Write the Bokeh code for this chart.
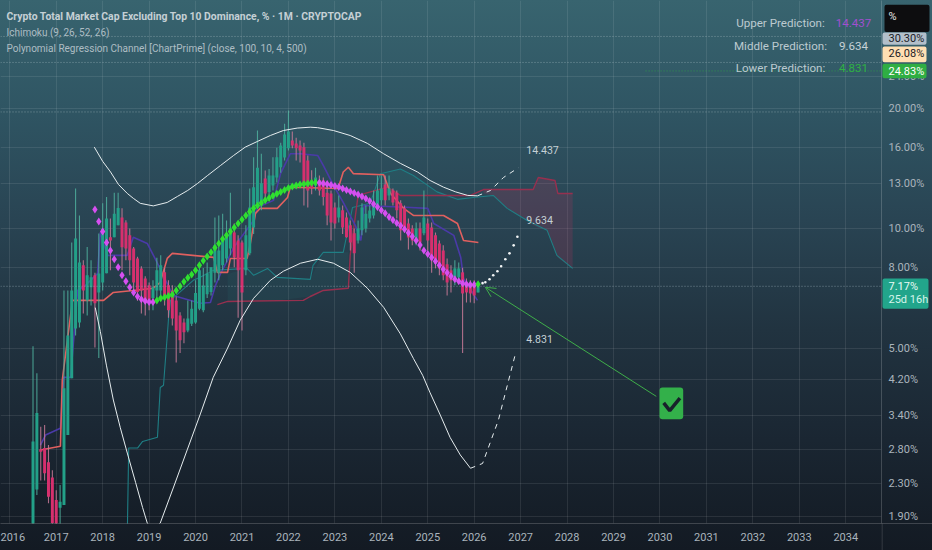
from bokeh.plotting import figure
from bokeh.embed import file_html
from bokeh.resources import INLINE
from bokeh.layouts import column
from bokeh.core.properties import value
from bokeh.models import FixedTicker, Label, Span, Arrow, OpenHead

# ---- axes
year_ticks = list(range(2016, 2035))
price_ticks = [24, 20, 16, 13, 10, 8, 5, 4.2, 3.4, 2.8, 2.3, 1.9]
price_labels = ["24.00%", "20.00%", "16.00%", "13.00%", "10.00%", "8.00%", "5.00%", "4.20%", "3.40%", "2.80%", "2.30%", "1.90%"]

# ---- monthly candles, Jul 2016 onward (percent)
first_month = 2016.5
opens = [1.70,2.22,2.80,2.82,2.60,2.38,2.09,2.00,2.03,3.04,4.22,5.62,5.82,8.09,6.61,7.13,7.64,6.92,7.33,7.73,9.51,9.51,10.19,10.66,10.36,9.62,8.92,8.42,7.95,7.50,7.21,6.70,7.00,7.00,7.77,7.21,7.00,6.61,6.06,5.82,5.56,5.78,5.82,6.30,6.24,6.85,6.94,7.75,7.75,8.09,8.42,8.92,9.78,9.34,9.23,7.86,8.67,10.07,11.57,11.63,13.36,12.36,12.83,13.43,14.25,15.07,15.90,16.63,16.35,16.16,16.00,14.82,13.20,12.83,13.20,13.20,12.30,12.25,11.30,10.66,11.11,10.66,10.19,9.73,9.34,9.90,10.00,10.60,10.79,11.30,11.77,12.90,12.11,12.46,12.30,11.57,11.25,10.30,10.00,9.34,10.00,9.73,10.30,10.07,9.62,9.18,8.82,8.14,7.86,7.55,7.55,7.77,7.33,7.21,7.21,6.92]
highs = [5.07,4.34,3.19,3.22,2.87,2.48,2.21,2.28,7.00,7.00,9.23,12.60,10.79,8.33,9.00,8.33,7.75,9.72,11.57,12.00,10.60,12.30,12.30,11.24,10.50,10.00,9.00,8.50,8.05,7.60,7.33,7.42,8.45,8.57,7.98,7.42,7.21,6.76,6.17,5.95,6.61,6.61,7.42,8.23,7.97,8.23,8.00,10.66,10.79,10.90,10.48,12.30,10.30,9.62,9.34,10.19,12.60,15.10,17.61,15.40,13.99,14.10,15.10,15.95,16.40,18.30,19.77,17.50,16.90,16.63,16.40,15.25,14.00,14.20,13.59,13.43,12.83,12.46,11.63,12.11,11.43,10.98,10.48,10.00,10.48,11.57,11.43,11.43,12.46,13.59,13.59,13.59,13.59,12.60,12.46,11.77,11.43,10.60,10.19,10.36,10.36,12.46,10.60,10.36,9.78,9.34,9.08,8.42,8.09,8.33,8.23,7.98,7.50,7.42,7.42,7.30]
lows = [1.65,2.15,2.34,2.34,2.05,1.76,1.70,1.76,2.03,3.04,4.22,5.40,5.65,6.13,6.06,6.42,5.04,4.74,7.00,7.73,7.86,9.51,10.19,7.86,8.33,7.64,7.00,6.60,6.13,6.06,6.24,6.24,6.60,6.80,6.42,5.98,5.72,4.62,4.88,5.16,5.50,5.70,5.78,6.24,6.17,6.70,6.80,7.33,7.42,7.86,8.23,8.57,8.00,5.98,5.56,7.64,8.57,9.70,11.43,11.11,11.77,12.11,12.46,13.05,13.80,14.82,15.70,15.90,14.82,14.65,11.43,11.30,12.20,12.46,12.11,11.43,10.19,9.34,10.00,10.36,9.70,9.50,8.82,7.75,9.18,9.62,9.78,10.36,10.60,11.11,11.43,11.43,11.77,11.43,10.60,9.34,9.78,8.87,9.08,9.08,8.82,9.62,8.82,7.75,7.95,7.64,7.42,6.80,6.92,7.21,7.33,4.88,6.53,6.53,6.50,6.92]
closes = [2.93,3.45,2.76,2.44,2.13,1.83,1.72,2.07,3.98,5.40,7.00,9.45,8.23,7.00,7.64,7.55,6.50,7.72,10.00,10.60,9.34,10.90,11.27,8.98,8.92,8.33,7.33,6.94,7.00,6.52,6.60,7.13,7.86,8.09,6.80,6.24,5.95,5.56,5.25,5.50,5.95,6.30,6.90,7.86,7.20,7.72,8.00,9.08,8.82,9.45,9.72,10.00,8.47,7.86,6.92,9.62,11.30,12.70,14.20,13.00,12.25,13.59,13.59,15.10,16.16,17.20,17.50,16.16,15.90,15.70,12.90,12.46,12.60,13.43,12.46,12.00,10.79,10.36,10.30,11.30,10.07,9.51,9.23,8.67,10.00,11.30,10.90,11.10,11.63,12.46,12.60,11.77,12.60,11.63,11.11,9.90,9.90,9.50,9.34,10.00,9.23,10.66,9.34,8.33,8.17,7.95,7.64,7.33,7.42,7.95,7.95,6.88,6.92,6.88,6.80,7.17]

# ---- polynomial regression centre line, last 100 months
middle = [11.17,10.42,9.84,9.23,8.82,8.38,8.00,7.64,7.38,7.13,6.92,6.76,6.65,6.59,6.55,6.55,6.61,6.69,6.73,6.78,6.84,7.00,7.17,7.36,7.53,7.68,7.86,8.09,8.31,8.52,8.72,8.95,9.18,9.42,9.62,9.84,10.07,10.30,10.54,10.79,11.02,11.24,11.43,11.60,11.77,11.94,12.08,12.22,12.36,12.50,12.64,12.75,12.83,12.90,12.94,12.98,13.02,13.05,13.02,12.98,12.94,12.87,12.79,12.72,12.60,12.50,12.39,12.28,12.18,12.04,11.90,11.73,11.53,11.33,11.11,10.92,10.70,10.51,10.33,10.16,9.96,9.76,9.56,9.34,9.10,8.82,8.64,8.47,8.28,8.09,7.91,7.75,7.60,7.47,7.38,7.30,7.25,7.23,7.23,7.25]

upper_x = [2017.82,2018.0,2018.17,2018.34,2018.53,2018.66,2018.81,2019.09,2019.39,2019.61,2019.83,2020.04,2020.26,2020.54,2020.82,2021.07,2021.33,2021.61,2021.89,2022.19,2022.47,2022.63,2022.97,2023.33,2023.70,2024.05,2024.41,2024.78,2025.05,2025.34,2025.60,2025.86,2026.07]
upper_y = [16.0,14.74,13.86,12.9,12.25,11.91,11.57,11.4,11.63,12.04,12.46,12.97,13.59,14.4,15.25,16.0,16.53,17.11,17.61,17.86,17.95,17.9,17.61,17.11,16.35,15.4,14.57,13.86,13.2,12.7,12.36,12.11,12.08]
lower_x = [2017.84,2017.95,2018.08,2018.23,2018.38,2018.53,2018.71,2018.86,2018.96,2019.09,2019.24,2019.52,2019.82,2020.11,2020.38,2020.69,2020.96,2021.25,2021.61,2021.89,2022.26,2022.63,2022.97,2023.33,2023.70,2024.05,2024.41,2024.69,2024.89,2025.05,2025.27,2025.48,2025.70,2025.92]
lower_y = [6.34,5.52,4.55,3.72,3.17,2.74,2.31,2.0,1.83,1.76,1.83,2.24,2.79,3.45,4.24,5.02,5.89,6.69,7.42,7.82,8.19,8.38,8.19,7.77,7.09,6.35,5.45,4.73,4.29,3.88,3.41,3.0,2.71,2.51]

upper_fc_x = [2026.07,2026.35,2026.63,2026.95]
upper_fc_y = [12.08,12.46,13.43,14.2]
middle_fc_x = [2026.08,2026.18,2026.24,2026.33,2026.41,2026.5,2026.58,2026.67,2026.76,2026.85,2026.93]
middle_fc_y = [7.25,7.3,7.34,7.47,7.64,7.82,8.05,8.38,8.67,9.08,9.54]
lower_fc_x = [2025.92,2026.18,2026.52,2026.88]
lower_fc_y = [2.51,2.58,3.31,4.82]

# ---- Ichimoku lines
kijun_x = [2016.66,2017.09,2017.13,2017.35,2017.46,2018.02,2018.23,2018.66,2019.09,2019.24,2019.39,2019.5,2020.39,2020.47,2020.69,2020.75,2021.11,2021.18,2021.29,2021.39,2021.76,2021.98,2022.04,2023.07,2023.18,2023.29,2023.4,2024.05,2024.2,2024.48,2024.69,2025.34,2025.64,2025.77,2026.09]
kijun_y = [2.79,2.85,4.17,6.61,6.61,6.61,6.92,7.0,7.09,7.33,8.42,8.67,8.47,7.77,7.77,8.42,8.42,9.18,10.92,11.24,11.24,11.97,12.7,12.6,13.86,14.25,13.73,13.65,12.25,11.24,10.79,10.79,10.3,9.34,9.23]
tenkan_x = [2016.66,2016.77,2017.09,2017.16,2017.31,2017.46,2017.63,2017.89,2017.95,2018.1,2018.53,2018.66,2018.96,2019.18,2019.46,2019.52,2020.1,2020.32,2020.43,2020.54,2020.69,2020.82,2021.25,2021.33,2021.68,2021.83,2022.04,2022.26,2022.63,2022.75,2022.97,2023.18,2023.44,2023.56,2023.63,2024.64,2025.0,2025.13,2025.56,2025.71,2025.77,2026.07]
tenkan_y = [2.87,3.04,3.16,4.24,4.24,7.0,7.21,7.72,9.79,8.57,8.57,9.51,9.18,8.19,7.0,6.8,6.5,6.53,7.21,7.72,8.33,8.97,10.48,11.3,11.77,13.73,15.4,15.4,15.25,14.4,12.83,11.63,10.19,9.34,11.43,11.3,11.24,10.3,9.62,8.47,7.5,6.61]
span_a_x = [2018.53,2018.56,2018.75,2018.86,2019.18,2019.24,2019.31,2019.42,2019.46,2019.95,2020.1,2020.38,2021.11,2021.25,2021.55,2021.76,2022.47,2022.53,2022.75,2023.18,2023.38,2023.76,2023.98,2024.41,2024.69,2025.2,2025.64,2025.98,2026.41,2026.71,2027.14,2027.57,2027.78,2028.12]
span_a_y = [1.7,2.82,2.82,2.93,3.0,4.0,4.05,5.99,6.61,7.42,7.55,7.86,7.95,7.64,7.95,7.55,7.46,8.09,8.72,8.72,11.3,11.57,13.73,14.1,13.59,12.36,11.84,11.97,12.11,11.24,10.48,9.9,8.57,7.95]
span_b_x = [2020.47,2020.69,2022.32,2022.47,2022.75,2023.29,2023.33,2023.5,2024.13,2024.41,2025.92,2026.2,2027.27,2027.38,2027.74,2027.8,2028.12]
span_b_y = [6.45,6.57,6.61,6.76,7.0,7.09,8.57,12.11,12.7,12.11,12.11,12.53,12.53,13.43,13.2,12.25,12.25]

cloud_x = [2026.2,2026.41,2026.71,2027.14,2027.27,2027.38,2027.57,2027.74,2027.78,2027.8,2028.12]
cloud_top = [12.53,12.53,12.53,12.53,12.53,13.43,13.3,13.2,12.9,12.25,12.25]
cloud_bottom = [12.25,12.11,11.24,10.48,10.2,10.05,9.9,8.8,8.57,8.45,7.95]
past_cloud_x = [2020.69,2021.11,2021.55,2021.76,2022.47,2022.75,2023.29]
past_cloud_top = [7.7,7.95,7.95,7.55,7.46,8.72,8.72]
past_cloud_bottom = [6.57,6.6,6.6,6.6,6.76,7.0,7.09]
mid_cloud_x = [2023.98,2024.41,2024.69,2025.2,2025.64]
mid_cloud_top = [13.73,14.1,13.59,12.36,11.84]
mid_cloud_bottom = [12.35,12.11,12.11,12.11,11.84]

price_lines = [30.30, 26.08, 19.6, 7.17]
lower_line_value = 24.83
lower_line_years = [2029.69, 2034.77]

arrow_years = [2029.92, 2026.24]
arrow_prices = [3.8, 7.13]
badge_years = [2029.99, 2030.5]
badge_prices = [3.33, 4.0]
check_years = [2030.08, 2030.21, 2030.43]
check_prices = [3.66, 3.5, 3.76]

legend_lines = [
    ("Crypto Total Market Cap Excluding Top 10 Dominance, % \u00b7 1M \u00b7 CRYPTOCAP", 16, "bold", "#c5d0d5", "10.4px"),
    ("Ichimoku (9, 26, 52, 26)", 32, "normal", "#aebdc4", "10px"),
    ("Polynomial Regression Channel [ChartPrime] (close, 100, 10, 4, 500)", 48, "normal", "#aebdc4", "10px"),
]
table_rows = [("Upper Prediction:", "14.437", 22, "#a24fd0"), ("Middle Prediction:", "9.634", 45, "#c6d2d8"), ("Lower Prediction:", "4.831", 67, "#2fb045")]
curve_labels = [("14.437", 2027.12, 15.7), ("9.634", 2027.12, 10.48), ("4.831", 2027.12, 5.28)]

# price scale tags: text, tag top, tag bottom, text level, fill, text colour
tag_text = ["30.30%", "26.08%", "24.83%", "7.17%", "25d 16h", "%"]
tag_level = [29.9, 27.4, 24.8, 7.17, 6.65, 34.0]
tag_text_col = ["#1b2026", "#1b2026", "#ffffff", "#eafbf6", "#d6f5ec", "#e8e8e8"]
tag_top = [31.0, 28.6, 25.9, 7.5, 36.4]
tag_bottom = [28.9, 26.1, 23.8, 6.3, 31.1]
tag_fill = ["#b3bfca", "#ffdfb3", "#2fae43", "#22a58b", "#0d0d0f"]

# ---- figure: frame spans page pixels x 0..881, y 0..523
p = figure(frame_width=881, frame_height=523, y_axis_type="log", y_axis_location="right",
           x_range=(2015.8, 2034.77), y_range=(1.825, 37.28),
           output_backend="svg", toolbar_location=None, min_border=0,
           min_border_left=0, min_border_right=51, min_border_bottom=27, min_border_top=0,
           background_fill_alpha=0, border_fill_alpha=0, outline_line_color=None)
p.styles = {"background": "linear-gradient(180deg,#38646f 0%,#2f5563 20%,#294453 40%,#213340 60%,#1a2632 80%,#131a23 100%)"}

p.xaxis.ticker = FixedTicker(ticks=year_ticks)
p.xaxis.major_label_overrides = {y: str(y) for y in year_ticks}
p.yaxis.ticker = FixedTicker(ticks=price_ticks)
p.yaxis.major_label_overrides = dict(zip(price_ticks, price_labels))
for ax in (p.xaxis[0], p.yaxis[0]):
    ax.major_tick_line_color = None
    ax.minor_tick_line_color = None
    ax.major_tick_out = 0
    ax.major_tick_in = 0
    ax.minor_tick_out = 0
    ax.axis_line_color = "#ffffff"
    ax.axis_line_alpha = 0.18
    ax.major_label_text_font = "Roboto"
    ax.major_label_text_font_size = "11px"
    ax.major_label_text_color = "#aab4bc"
    ax.major_label_standoff = 7
p.xaxis[0].major_label_standoff = 9
p.grid.grid_line_color = "#ffffff"
p.grid.grid_line_alpha = 0.09
p.ygrid.minor_grid_line_color = None
p.xgrid.ticker = FixedTicker(ticks=year_ticks)
p.ygrid.ticker = FixedTicker(ticks=price_ticks)

for level in price_lines:
    p.add_layout(Span(location=level, dimension="width", line_color="#a9bcc3", line_alpha=0.6, line_dash="1 2", line_width=1))
p.line(lower_line_years, [lower_line_value, lower_line_value], line_color="#2fae43", line_alpha=0.7, line_dash="1 2")

# clouds
p.varea(cloud_x, cloud_bottom, cloud_top, fill_color="#b0305a", fill_alpha=0.22)
p.varea(past_cloud_x, past_cloud_bottom, past_cloud_top, fill_color="#26a69a", fill_alpha=0.07)
p.varea(mid_cloud_x, mid_cloud_bottom, mid_cloud_top, fill_color="#26a69a", fill_alpha=0.10)

# ichimoku, underneath the candles
p.line(span_a_x, span_a_y, line_color="#1f7f85", line_width=1.1)
p.line(span_b_x, span_b_y, line_color="#96304f", line_width=1.4)
p.line(tenkan_x, tenkan_y, line_color="#4a3aa8", line_width=1.6)
p.line(kijun_x, kijun_y, line_color="#e0605f", line_width=1.6)

# candles
months = [first_month + i / 12 for i in range(len(opens))]
up = "#23a088"
down = "#d6306e"
colours = [up if c >= o else down for o, c in zip(opens, closes)]
wicks = ["#4fb09d" if c >= o else "#c97a98" for o, c in zip(opens, closes)]
p.segment(months, lows, months, highs, line_color=wicks, line_width=1.1, line_alpha=0.85)
p.vbar(months, width=0.064, bottom=[min(a, b) for a, b in zip(opens, closes)],
       top=[max(a, b) for a, b in zip(opens, closes)], fill_color=colours, line_color=None)

# channel
p.line(upper_x, upper_y, line_color="#e6edef", line_width=1)
p.line(lower_x, lower_y, line_color="#e6edef", line_width=1)
p.line(upper_fc_x, upper_fc_y, line_color="#e6edef", line_width=1, line_dash="5 5")
p.line(lower_fc_x, lower_fc_y, line_color="#e6edef", line_width=1, line_dash="5 5")
p.scatter(middle_fc_x, middle_fc_y, marker="circle", size=2.6, fill_color="#f2f5f6", line_color=None)

mid_x = months[-len(middle):]
mid_col = ["#d64ff0"] + ["#2fe02f" if b > a else "#d64ff0" for a, b in zip(middle, middle[1:])]
p.scatter(mid_x, middle, marker="diamond", size=8, fill_color=mid_col, line_color=None)

# arrow and badge
p.add_layout(Arrow(end=OpenHead(size=10, line_color="#3fae4a", line_width=1), x_start=arrow_years[0], y_start=arrow_prices[0],
                   x_end=arrow_years[1], y_end=arrow_prices[1], line_color="#3fae4a", line_width=1))
p.quad(left=badge_years[0], right=badge_years[1], bottom=badge_prices[0], top=badge_prices[1],
       fill_color="#33b04a", line_color=None, border_radius=3)
p.line(check_years, check_prices, line_color="#18212b", line_width=3.5)


def page_label(text, x, y, align="left", color="#c0ccd2", size="12px", font="Roboto", style="normal"):
    p.add_layout(Label(x=x, y=523 - y, x_units="screen", y_units="screen", text=text, text_align=align,
                       text_baseline="middle", text_color=color, text_font_size=size, text_font=font,
                       text_font_style=style))


for text, y, style, col, size in legend_lines:
    page_label(text, 6, y, color=col, size=size, style=style)
for name, val, y, col in table_rows:
    page_label(name, 780, y, align="center", color="#bccad0", size="11.6px")
    page_label(val, 853, y, align="center", color=col, size="11.6px")
for text, yr, pct in curve_labels:
    p.add_layout(Label(x=yr, y=pct, text=text, text_align="left", text_baseline="middle", text_color="#c4d0d5",
                       text_font="Roboto", text_font_size="10.6px"))

# ---- tags on the price scale: a small transparent figure laid over the scale, sharing its log range
tags = figure(frame_width=51, frame_height=550, y_axis_type="log", x_axis_location=None, y_axis_location=None,
              x_range=(0, 51), y_range=(1.562, 37.28), output_backend="svg", toolbar_location=None, min_border=0,
              background_fill_alpha=0, border_fill_alpha=0, outline_line_color=None)
tags.grid.visible = False
tags.styles = {"position": "absolute", "left": "881px", "top": "0px"}
tags.line([0, 51], [1.825, 1.825], line_color="#ffffff", line_alpha=0.18, line_width=1)
tags.line([0.5, 0.5], [1.825, 1.562], line_color="#ffffff", line_alpha=0.18, line_width=1)
tags.quad(left=[1, 1, 1, 1, 3], right=[45, 45, 45, 47, 48], bottom=tag_bottom, top=tag_top, fill_color=tag_fill,
          line_color=None, border_radius=2)
tags.text([7] * len(tag_text), tag_level, text=tag_text, text_color=tag_text_col, text_baseline="middle",
          text_font=value("Roboto"), text_font_size="11px")

root = column(p, tags)
open("out.html", "w").write(file_html(root, INLINE))
